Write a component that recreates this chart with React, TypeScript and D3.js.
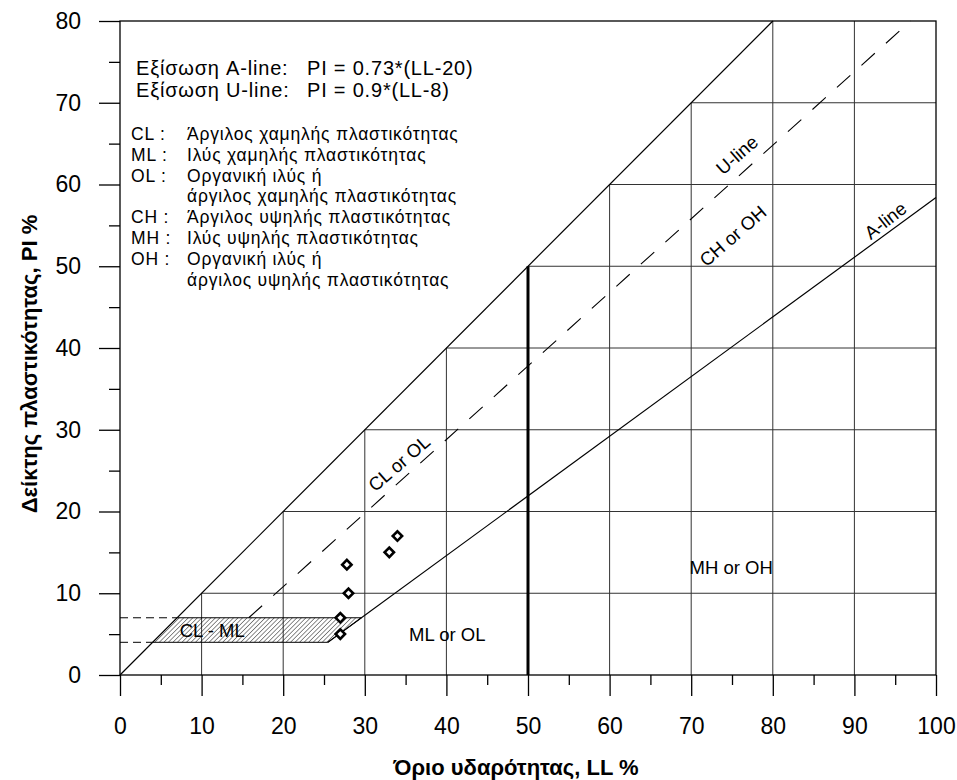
import React, { useEffect, useRef } from "react";
import * as d3 from "d3";

const W = 957;
const H = 780;
const margin = { top: 21, right: 21, bottom: 105, left: 120 };

const llTicks = [0, 10, 20, 30, 40, 50, 60, 70, 80, 90, 100];
const piTicks = [0, 10, 20, 30, 40, 50, 60, 70, 80];

// test samples (LL, PI)
const sampleLL = [27, 27, 28, 27.8, 33, 34];
const samplePI = [5, 7, 10, 13.5, 15, 17];

// PI = slope * (LL - offset)
const aLine = [0.73, 20];
const uLine = [0.9, 8];
const clmlBand = [4, 7];

const equationNames = ["Εξίσωση A-line:", "Εξίσωση U-line:"];
const equationTexts = ["PI = 0.73*(LL-20)", "PI = 0.9*(LL-8)"];

const legendCodes = ["CL :", "ML :", "OL :", "", "CH :", "MH :", "OH :", ""];
const legendTexts = [
  "Άργιλος χαμηλής πλαστικότητας",
  "Ιλύς χαμηλής πλαστικότητας",
  "Οργανική ιλύς ή",
  "άργιλος χαμηλής πλαστικότητας",
  "Άργιλος υψηλής πλαστικότητας",
  "Ιλύς υψηλής πλαστικότητας",
  "Οργανική ιλύς ή",
  "άργιλος υψηλής πλαστικότητας",
];

const zoneNames = ["CL - ML", "ML or OL", "MH or OH", "CL or OL", "CH or OH", "U-line", "A-line"];
const zoneLL = [11.3, 40.1, 74.9, 34.2, 75.1, 75.6, 93.8];
const zonePI = [5.5, 4.95, 13.1, 25.9, 53.7, 63.6, 55.6];

const FONT = "'Liberation Sans', Arial, Helvetica, sans-serif";

function CasagrandeChart() {
  const ref = useRef(null);

  useEffect(() => {
    const x = d3
        .scaleLinear()
        .domain([0, 100])
        .range([margin.left, W - margin.right]),
      y = d3
        .scaleLinear()
        .domain([0, 80])
        .range([H - margin.bottom, margin.top]);

    const svg = d3.select(ref.current);
    svg.selectAll("*").remove();
    svg.attr("font-family", FONT);

    const defs = svg.append("defs");
    const pat = defs
      .append("pattern")
      .attr("id", "hatch")
      .attr("patternUnits", "userSpaceOnUse")
      .attr("width", 3.2)
      .attr("height", 3.2)
      .attr("patternTransform", "rotate(45)");
    pat
      .append("line")
      .attr("x1", 0)
      .attr("y1", 0)
      .attr("x2", 0)
      .attr("y2", 3.2)
      .attr("stroke", "#000")
      .attr("stroke-width", 0.9);

    const line = d3
      .line()
      .x((d) => x(d[0]))
      .y((d) => y(d[1]));

    // stepped grid below the PI = LL line
    const grid = svg.append("g").attr("stroke", "#333").attr("stroke-width", 1);
    llTicks
      .filter((v) => v > 0 && v < 100)
      .forEach((v) => {
        grid
          .append("line")
          .attr("x1", x(v))
          .attr("x2", x(v))
          .attr("y1", y(0))
          .attr("y2", y(Math.min(v, 80)));
      });
    piTicks
      .filter((v) => v > 0 && v < 80)
      .forEach((v) => {
        grid
          .append("line")
          .attr("x1", x(v))
          .attr("x2", x(100))
          .attr("y1", y(v))
          .attr("y2", y(v));
      });

    // CL-ML hatched band
    const [lo, hi] = clmlBand;
    const aLL = (pi) => pi / aLine[0] + aLine[1];
    svg
      .append("path")
      .attr(
        "d",
        line([
          [lo, lo],
          [aLL(lo), lo],
          [aLL(hi), hi],
          [hi, hi],
        ]) + "Z"
      )
      .attr("fill", "url(#hatch)")
      .attr("stroke", "#000")
      .attr("stroke-width", 1);

    // dashed leaders to the PI axis
    clmlBand.forEach((v) => {
      svg
        .append("path")
        .attr("d", line([[0, v], [v, v]]))
        .attr("stroke", "#000")
        .attr("stroke-width", 1)
        .attr("stroke-dasharray", "8,5")
        .attr("fill", "none");
    });

    // PI = LL upper bound
    svg
      .append("path")
      .attr("d", line([[0, 0], [80, 80]]))
      .attr("stroke", "#000")
      .attr("stroke-width", 1.2)
      .attr("fill", "none");

    // A-line
    svg
      .append("path")
      .attr("d", line([[aLL(lo), lo], [100, aLine[0] * (100 - aLine[1])]]))
      .attr("stroke", "#000")
      .attr("stroke-width", 1.2)
      .attr("fill", "none");

    // U-line
    const uLL = (pi) => pi / uLine[0] + uLine[1];
    svg
      .append("path")
      .attr("d", line([[uLL(hi), hi], [uLL(80), 80]]))
      .attr("stroke", "#000")
      .attr("stroke-width", 1.1)
      .attr("stroke-dasharray", "18,15")
      .attr("fill", "none");

    // LL = 50 divider
    svg
      .append("path")
      .attr("d", line([[50, 0], [50, 50]]))
      .attr("stroke", "#000")
      .attr("stroke-width", 3)
      .attr("fill", "none");

    // frame
    svg
      .append("rect")
      .attr("x", x(0))
      .attr("y", y(80))
      .attr("width", x(100) - x(0))
      .attr("height", y(0) - y(80))
      .attr("fill", "none")
      .attr("stroke", "#000")
      .attr("stroke-width", 1.3);

    // axes
    const xAxis = svg.append("g").attr("transform", `translate(0,${y(0)})`);
    xAxis.call(
      d3.axisBottom(x).tickValues(llTicks).tickSize(21).tickPadding(22).tickSizeOuter(0)
    );
    xAxis.append("g").call(
      d3.axisBottom(x).tickValues(d3.range(5, 100, 10)).tickSize(10).tickFormat(() => "").tickSizeOuter(0)
    );
    const yAxis = svg.append("g").attr("transform", `translate(${x(0)},0)`);
    yAxis.call(
      d3.axisLeft(y).tickValues(piTicks).tickSize(21).tickPadding(18).tickSizeOuter(0)
    );
    yAxis.append("g").call(
      d3.axisLeft(y).tickValues(d3.range(5, 80, 10)).tickSize(11).tickFormat(() => "").tickSizeOuter(0)
    );
    svg.selectAll(".domain").remove();
    svg
      .selectAll(".tick line")
      .attr("stroke", "#000")
      .attr("stroke-width", 1.3);
    svg
      .selectAll(".tick text")
      .attr("font-family", FONT)
      .attr("font-size", 23)
      .attr("fill", "#000");

    // axis titles
    svg
      .append("text")
      .attr("x", 516)
      .attr("y", 775)
      .attr("text-anchor", "middle")
      .attr("font-weight", "bold")
      .attr("font-size", 22)
      .text("Όριο υδαρότητας, LL %");
    svg
      .append("text")
      .attr("transform", `translate(37,${(y(0) + y(80)) / 2 + 16}) rotate(-90)`)
      .attr("text-anchor", "middle")
      .attr("font-weight", "bold")
      .attr("font-size", 22)
      .text("Δείκτης πλαστικότητας, PI %");

    // equations
    equationNames.forEach((t, i) => {
      svg
        .append("text")
        .attr("x", 136)
        .attr("y", 75 + i * 21.5)
        .attr("font-size", 20)
        .attr("letter-spacing", 0.8)
        .text(t);
      svg
        .append("text")
        .attr("x", 307)
        .attr("y", 75 + i * 21.5)
        .attr("font-size", 20)
        .attr("letter-spacing", 0.8)
        .text(equationTexts[i]);
    });

    // legend
    legendTexts.forEach((t, i) => {
      const by = 140 + i * 20.8;
      svg
        .append("text")
        .attr("x", 131)
        .attr("y", by)
        .attr("font-size", 17.5)
        .attr("letter-spacing", 0.8)
        .text(legendCodes[i]);
      svg
        .append("text")
        .attr("x", 187)
        .attr("y", by)
        .attr("font-size", 17.5)
        .attr("letter-spacing", 0.8)
        .text(t);
    });

    // zone labels
    const angles = [0, 0, 0, -41, -41, -41, -38];
    zoneNames.forEach((t, i) => {
      svg
        .append("text")
        .attr(
          "transform",
          `translate(${x(zoneLL[i])},${y(zonePI[i])}) rotate(${angles[i]})`
        )
        .attr("text-anchor", "middle")
        .attr("dominant-baseline", "central")
        .attr("font-size", 18.5)
        .text(t);
    });

    // samples
    const symbol = d3.symbol().type(d3.symbolSquare).size(44);
    svg
      .append("g")
      .selectAll("path")
      .data(sampleLL.map((v, i) => [v, samplePI[i]]))
      .join("path")
      .attr("d", symbol)
      .attr("transform", (d) => `translate(${x(d[0])},${y(d[1])}) rotate(45)`)
      .attr("fill", "#fff")
      .attr("stroke", "#000")
      .attr("stroke-width", 2.6);
  }, []);

  return (
    <svg
      ref={ref}
      width={W}
      height={H}
      style={{ position: "absolute", left: 0, top: 0, background: "#fff" }}
    />
  );
}

export default function App() {
  return <CasagrandeChart />;
}
